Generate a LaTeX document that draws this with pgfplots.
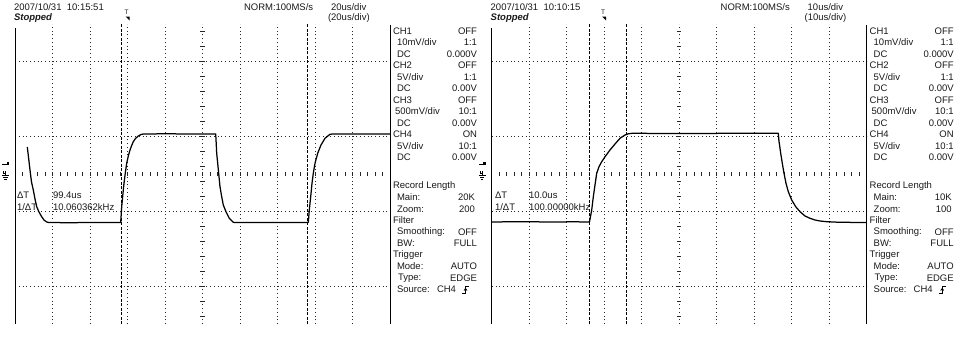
\documentclass[border=0pt]{standalone}
\usepackage{pgfplots}
\pgfplotsset{compat=1.18}
\usepackage{fontspec}
\setmainfont{Liberation Sans}
\newfontfamily\scopefont{Liberation Sans}

\pgfplotsset{
  scopeaxis/.style={
    anchor=south west, width=375bp, height=300bp, scale only axis,
    ymin=-4, ymax=4, ytick={-3,-1,1,3},
    grid=major,
    major grid style={black!85, line width=0.9bp, dash pattern=on 0.9bp off 2.85bp},
    axis line style={draw=none},
    major tick length=0pt,
    tick label style={opacity=0},
    clip=false,
  },
}
\tikzset{
  trace/.style={black, line width=1.25bp, line join=round, mark=none},
  cursor/.style={black, line width=0.9bp, dash pattern=on 3bp off 1.5bp},
}

\begin{document}
\begin{tikzpicture}
\path[use as bounding box] (0,0) rectangle (960bp,-360bp);

% ---------------- left screen: 20us/div ----------------
\begin{axis}[scopeaxis, at={(15bp,-324bp)}, xmin=0, xmax=200,
  xtick={20,40,...,180}]
\draw[black, line width=1bp] (rel axis cs:0,0) -- (rel axis cs:0,0.987);
\draw[black, line width=1bp] (rel axis cs:1,0) -- (rel axis cs:1,0.997);
\pgfplotsinvokeforeach{4,8,...,196}{\draw[black!85, line width=0.8bp] (axis cs:#1,-0.055) -- (axis cs:#1,0.055);}
\pgfplotsinvokeforeach{-3.8,-3.4,...,3.9}{\draw[black!85, line width=0.8bp] (axis cs:98.9,#1) -- (axis cs:101.1,#1);}
\draw[cursor] (axis cs:56.7,-4) -- (axis cs:56.7,4);
\draw[cursor] (axis cs:156.1,-4) -- (axis cs:156.1,4);
\addplot[trace] coordinates {
 (6.56,0.72) (7.2,0.453) (8.0,0.107) (8.8,-0.213) (9.76,-0.427) (10.67,-0.667)
 (11.57,-0.872) (12.8,-1.013) (14.24,-1.139) (15.47,-1.227) (16.9,-1.28) (18,-1.293)
 (30,-1.30) (40,-1.29) (50,-1.295) (56.37,-1.293)
 (56.91,-0.872) (57.6,-0.507) (58.13,-0.248) (58.83,0.027) (59.57,0.285) (60.43,0.48)
 (61.33,0.64) (62.24,0.76) (63.09,0.861) (64.27,0.947) (65.76,1.013) (67.2,1.053) (68.43,1.067)
 (80,1.072) (95,1.067) (107.04,1.067)
 (107.31,0.819) (107.57,0.552) (108.11,0.285) (108.8,-0.072) (109.33,-0.339) (110.24,-0.605)
 (111.09,-0.827) (112.53,-1.005) (114.29,-1.181) (116.43,-1.288) (117.33,-1.293)
 (130,-1.29) (145,-1.295) (156.43,-1.293)
 (156.96,-0.96) (157.71,-0.605) (158.4,-0.248) (159.09,0.019) (160.0,0.285) (161.44,0.552)
 (163.2,0.773) (165.33,0.952) (168.0,1.059) (169.6,1.067) (185,1.07) (200,1.067)
};
\end{axis}

% ---------------- right screen: 10us/div ----------------
\begin{axis}[scopeaxis, at={(491.8bp,-324bp)}, xmin=0, xmax=100,
  xtick={10,20,...,90}]
\draw[black, line width=1bp] (rel axis cs:0,0) -- (rel axis cs:0,0.987);
\draw[black, line width=1bp] (rel axis cs:1,0) -- (rel axis cs:1,0.997);
\pgfplotsinvokeforeach{2,4,...,98}{\draw[black!85, line width=0.8bp] (axis cs:#1,-0.055) -- (axis cs:#1,0.055);}
\pgfplotsinvokeforeach{-3.8,-3.4,...,3.9}{\draw[black!85, line width=0.8bp] (axis cs:49.45,#1) -- (axis cs:50.55,#1);}
\draw[cursor] (axis cs:26.0,-4) -- (axis cs:26.0,4);
\draw[cursor] (axis cs:36.0,-4) -- (axis cs:36.0,4);
\addplot[trace] coordinates {
 (0,-1.28) (8,-1.27) (15,-1.28) (22,-1.275) (26.05,-1.28)
 (26.64,-0.96) (27.07,-0.605) (27.52,-0.293) (27.97,0.019) (28.59,0.195) (29.31,0.328)
 (30.19,0.461) (31.52,0.64) (32.85,0.8) (34.19,0.952) (35.52,1.04) (36.4,1.072) (37.39,1.085)
 (50,1.08) (65,1.085) (76.4,1.085)
 (76.59,0.861) (76.67,0.819) (77.04,0.552) (77.47,0.285) (77.92,0.019) (78.45,-0.248)
 (79.07,-0.472) (79.97,-0.693) (81.04,-0.872) (82.19,-1.005) (83.52,-1.12) (84.85,-1.181)
 (86.19,-1.227) (87.52,-1.253) (89.31,-1.272) (92.85,-1.288) (100,-1.293)
};
\end{axis}

% ---------------- screen texts ----------------
\begin{scope}[x=1bp, y=-1bp, every node/.style={inner sep=0pt, outer sep=0pt,
   font=\scopefont\fontsize{9.5bp}{10bp}\selectfont, text=black!90}]
\foreach \ox/\date/\tdiv/\main/\zoom in {0/10:15:51/20/20K/200, 476.7/10:10:15/10/10K/100}{
  \begin{scope}[xshift=\ox bp]
  \node[anchor=west] at (14,7) {2007/10/31 \ \date};
  \node[anchor=west] at (244,7) {NORM:100MS/s};
  \node[anchor=west] at (331,7) {\tdiv us/div};
  \node[anchor=west] at (14,18) {\bfseries\itshape Stopped};
  \node[anchor=west] at (328,18) {(\tdiv us/div)};
  % trigger marker
  \node[font=\scopefont\fontsize{6.5bp}{7bp}\selectfont] at (126.5,12) {T};
  \fill[black] (125.5,16.5) -- (129.5,16.5) -- (129.5,20.5) -- cycle;
  % channel markers on left edge
  \fill[black] (2,163.8) rectangle (9,165.2);
  \fill[black] (6.5,161.5) rectangle (9,165.2);
  \draw[black, line width=0.8bp] (5.5,171) -- (5.5,175.5);
  \draw[black, line width=0.8bp] (3.3,171) -- (3.3,173.5) -- (5.5,173.5);
  \draw[black, line width=0.8bp] (2,175.5) -- (9,175.5);
  \draw[black, line width=0.8bp] (3.5,177.5) -- (7.5,177.5);
  \draw[black, line width=0.8bp] (4.5,179.3) -- (6.5,179.3);
  % right panel column
  \node[anchor=west] at (393,31) {CH1};      \node[anchor=east] at (477,31) {OFF};
  \node[anchor=west] at (397,42.5) {10mV/div}; \node[anchor=east] at (477,42.5) {1:1};
  \node[anchor=west] at (397,54) {DC};       \node[anchor=east] at (477,54) {0.000V};
  \node[anchor=west] at (393,65.5) {CH2};    \node[anchor=east] at (477,65.5) {OFF};
  \node[anchor=west] at (397,77) {5V/div};   \node[anchor=east] at (477,77) {1:1};
  \node[anchor=west] at (397,88.5) {DC};     \node[anchor=east] at (477,88.5) {0.00V};
  \node[anchor=west] at (393,100) {CH3};     \node[anchor=east] at (477,100) {OFF};
  \node[anchor=west] at (395,111.5) {500mV/div}; \node[anchor=east] at (477,111.5) {10:1};
  \node[anchor=west] at (397,123) {DC};      \node[anchor=east] at (477,123) {0.00V};
  \node[anchor=west] at (393,134.5) {CH4};   \node[anchor=east] at (477,134.5) {ON};
  \node[anchor=west] at (397,146) {5V/div};  \node[anchor=east] at (477,146) {10:1};
  \node[anchor=west] at (397,157.5) {DC};    \node[anchor=east] at (477,157.5) {0.00V};
  \node[anchor=west] at (393,186) {Record Length};
  \node[anchor=west] at (397,197.5) {Main:};      \node[anchor=east] at (475,197.5) {\main};
  \node[anchor=west] at (397,209) {Zoom:};        \node[anchor=east] at (475,209) {\zoom};
  \node[anchor=west] at (393,220.5) {Filter};
  \node[anchor=west] at (397,232) {Smoothing:};   \node[anchor=east] at (477,232) {OFF};
  \node[anchor=west] at (397,243.5) {BW:};        \node[anchor=east] at (477,243.5) {FULL};
  \node[anchor=west] at (393,255) {Trigger};
  \node[anchor=west] at (397,266.5) {Mode:};      \node[anchor=east] at (477,266.5) {AUTO};
  \node[anchor=west] at (398,278) {Type:};        \node[anchor=east] at (477,278) {EDGE};
  \node[anchor=west] at (397,289.5) {Source:};    \node[anchor=west] at (437,289.5) {CH4};
  \draw[black, line width=0.8bp] (462,293) -- (465.5,293) -- (465.5,286) -- (469,286);
  \draw[black, line width=0.8bp] (464,290.5) -- (465.5,288.5) -- (467,290.5);
  \end{scope}
}
\node[anchor=west] at (17,195) {ΔT};
\node[anchor=west] at (53,195) {99.4us};
\node[anchor=west] at (17,207) {1/ΔT};
\node[anchor=west] at (53,207) {10.060362kHz};
\node[anchor=west] at (495,195) {ΔT};
\node[anchor=west] at (529,195) {10.0us};
\node[anchor=west] at (495,207) {1/ΔT};
\node[anchor=west] at (529,207) {100.00000kHz};
\end{scope}
\end{tikzpicture}
\end{document}
